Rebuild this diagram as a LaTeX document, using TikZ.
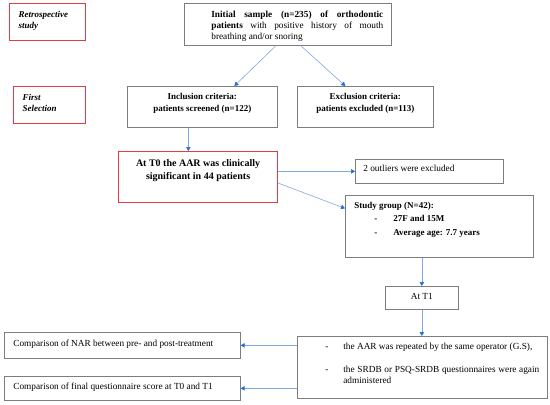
\documentclass[tikz,border=0pt]{standalone}
\usepackage{fontspec}
\setmainfont{Liberation Serif}
\usetikzlibrary{arrows.meta}

\definecolor{boxgray}{RGB}{125,125,125}
\definecolor{boxred}{RGB}{232,58,68}
\definecolor{flowblue}{RGB}{125,170,228}
\definecolor{tipblue}{RGB}{30,112,212}

\newcommand{\cellbox}[4]{\parbox[c][#2][t]{#1}{\vspace*{#3}#4}}
\newcommand{\normtext}{\fontsize{9.3}{11}\selectfont}
\newcommand{\boldtext}{\fontsize{9}{11.5}\selectfont\bfseries}
\newcommand{\itemdash}{\leavevmode\llap{\makebox[18pt][l]{-}}}

\begin{document}
\begin{tikzpicture}[x=1pt, y=-1pt,
  box/.style={draw=boxgray, line width=0.7pt, inner sep=0pt, anchor=north west, font=\normtext},
  redbox/.style={box, draw=boxred, line width=1.2pt},
  flow/.style={draw=flowblue, line width=0.6pt, -{Triangle[length=4pt, width=4.5pt, color=tipblue]}}]
  \useasboundingbox (0,0) rectangle (550,405);

  % Stage labels
  \node[redbox] (retro) at (9,3) {\cellbox{76pt}{37pt}{7.4pt}{\leftskip=9pt\boldtext\itshape Retrospective\\ study}};
  \node[redbox] (first) at (13,86) {\cellbox{72pt}{37pt}{7.4pt}{\leftskip=9pt\boldtext\itshape First\\ Selection}};

  % Sample and selection
  \node[box] (init) at (184,3) {\cellbox{207pt}{42pt}{7.4pt}{\leftskip=27pt\rightskip=8pt
    \textbf{Initial sample (n=235) of orthodontic\linebreak patients} with positive history of mouth\linebreak breathing and/or snoring}};
  \node[box] (incl) at (127,86) {\cellbox{150pt}{41pt}{7.4pt}{\centering\boldtext Inclusion criteria:\\ patients screened (n=122)}};
  \node[box] (excl) at (297,86) {\cellbox{136pt}{41pt}{7.4pt}{\centering\boldtext Exclusion criteria:\\ patients excluded (n=113)}};
  \node[redbox] (aar) at (118,151) {\cellbox{159pt}{51pt}{8pt}{\centering\fontsize{10}{12.5}\selectfont\bfseries
    At T0 the AAR was clinically\\ significant in 44 patients}};
  \node[box] (outl) at (355,159) {\cellbox{148pt}{24pt}{5.4pt}{\leftskip=8pt 2 outliers were excluded}};
  \node[box] (study) at (345,195) {\cellbox{188pt}{62pt}{6.9pt}{\leftskip=9pt\fontsize{9}{13.5}\selectfont\bfseries
    Study group (N=42):\\
    \hspace*{20pt}\makebox[19pt][l]{-}27F and 15M\\
    \hspace*{20pt}\makebox[19pt][l]{-}Average age: 7.7 years}};

  % Follow-up
  \node[box] (t1) at (385,286) {\cellbox{73pt}{23pt}{7.4pt}{\centering At T1}};
  \node[box] (repeat) at (297,336) {\cellbox{250pt}{62pt}{7pt}{\leftskip=46pt\rightskip=8pt
    \itemdash the AAR was repeated by the same operator (G.S),\par\vspace{12pt}
    \itemdash the SRDB or PSQ-SRDB questionnaires were again\linebreak administered}};
  \node[box] (nar) at (4,332) {\cellbox{236pt}{26pt}{7.4pt}{\leftskip=9pt Comparison of NAR between pre- and post-treatment}};
  \node[box] (quest) at (4,376) {\cellbox{236pt}{24pt}{6.9pt}{\leftskip=9pt Comparison of final questionnaire score at T0 and T1}};

  % Arrows
  \draw[flow] ([xshift=-12pt]init.south) -- ([xshift=32pt]incl.north);
  \draw[flow] ([xshift=13pt]init.south) -- ([xshift=-20pt]excl.north);
  \draw[flow] ([xshift=-14pt]incl.south) -- ([xshift=-14pt]incl.south |- aar.north);
  \draw[flow] (aar.east |- outl.west) -- (outl.west);
  \draw[flow] ([yshift=-6pt]aar.east) -- ([yshift=18pt]study.west);
  \draw[flow] (t1.north |- study.south) -- (t1.north);
  \draw[flow] (t1.south) -- (t1.south |- repeat.north);
  \draw[flow] (repeat.west |- nar.east) -- (nar.east);
  \draw[flow] (repeat.west |- quest.east) -- (quest.east);
\end{tikzpicture}
\end{document}
